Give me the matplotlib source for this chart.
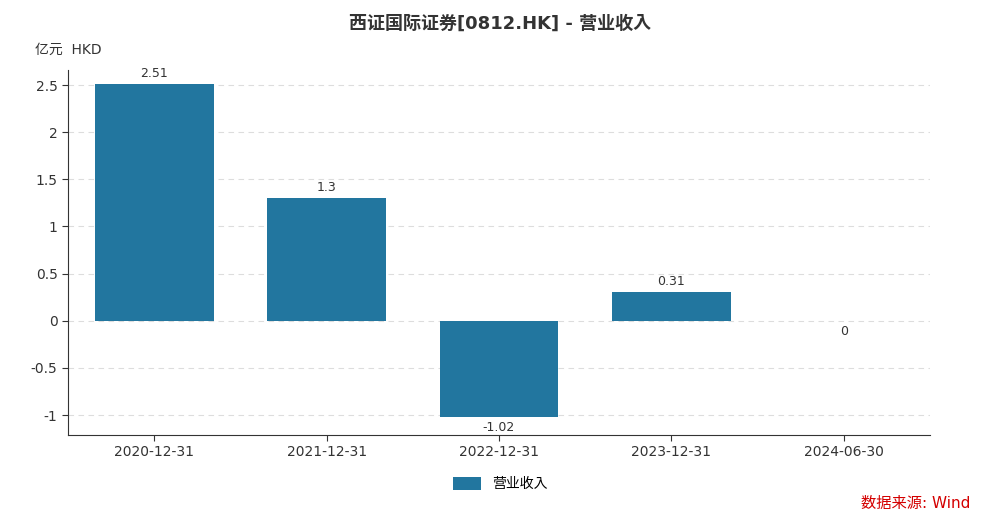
import matplotlib
matplotlib.use("Agg")
import matplotlib.pyplot as plt
from matplotlib import font_manager as fm

names = sorted({f.name for f in fm.fontManager.ttflist if "CJK" in f.name or "Noto" in f.name})
cjk = [n for n in names if "CJK" in n]
plt.rcParams["font.family"] = ["DejaVu Sans"] + cjk

categories = ["2020-12-31", "2021-12-31", "2022-12-31", "2023-12-31", "2024-06-30"]
values = [2.51, 1.3, -1.02, 0.31, 0]
labels = ["2.51", "1.3", "-1.02", "0.31", "0"]
yticks = [-1, -0.5, 0, 0.5, 1, 1.5, 2, 2.5]
ytick_labels = ["-1", "-0.5", "0", "0.5", "1", "1.5", "2", "2.5"]

fig = plt.figure(figsize=(10, 5.22), dpi=100)
ax = fig.add_axes([0.068, 0.167, 0.862, 0.699])
color = "#22769f"
x = range(len(categories))
ax.bar(x, values, width=0.69, color=color, zorder=3, label="营业收入")
for i, (v, l) in enumerate(zip(values, labels)):
    if v > 0:
        ax.text(i, v + 0.04, l, ha="center", va="bottom", fontsize=9, color="#333")
    elif v < 0:
        ax.text(i, v - 0.04, l, ha="center", va="top", fontsize=9, color="#333")
    else:
        ax.text(i, v - 0.05, l, ha="center", va="top", fontsize=9, color="#333")
ax.set_xlim(-0.5, 4.5)
ax.set_ylim(-1.21, 2.66)
ax.set_yticks(yticks)
ax.set_yticklabels(ytick_labels, fontsize=10, color="#333")
ax.set_xticks(list(x))
ax.set_xticklabels(categories, fontsize=10, color="#333")
ax.grid(axis="y", linestyle=(0, (5, 4)), color="#dddddd", zorder=0)
for s in ["top", "right"]:
    ax.spines[s].set_visible(False)
ax.spines["left"].set_color("#333")
ax.spines["bottom"].set_color("#333")
ax.tick_params(length=4, color="#333")

fig.text(0.5, 0.955, "西证国际证券[0812.HK] - 营业收入", ha="center", va="center",
         fontsize=13, fontweight="bold", color="#333")
fig.text(0.035, 0.905, "亿元  HKD", ha="left", va="center", fontsize=10, color="#333")
fig.legend(loc="center", bbox_to_anchor=(0.5, 0.073), frameon=False, fontsize=10,
           handlelength=2, handleheight=1.1)
fig.text(0.97, 0.035, "数据来源: Wind", ha="right", va="center", fontsize=11, color="#d40000")
fig.savefig("out.png", dpi=100, facecolor="white")
